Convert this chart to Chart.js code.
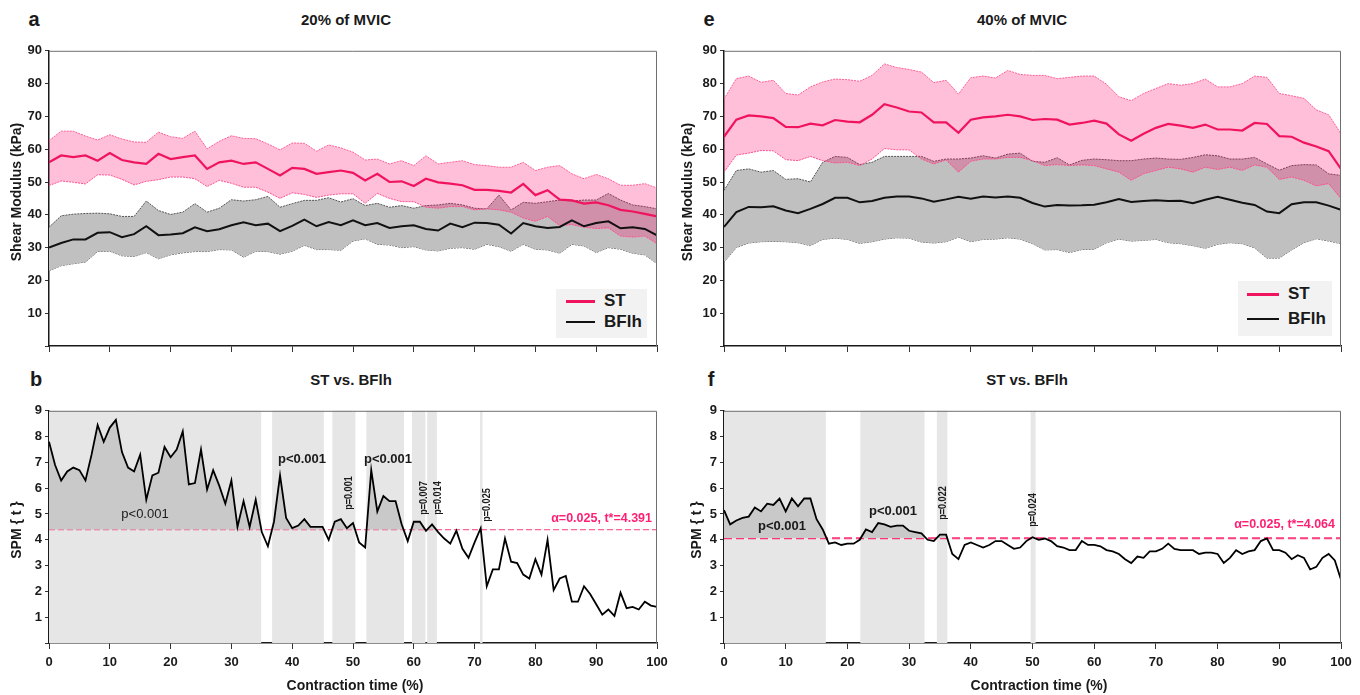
<!DOCTYPE html>
<html>
<head>
<meta charset="utf-8">
<title>ST vs BFlh</title>
<script src="https://cdn.jsdelivr.net/npm/chart.js@4.4.1/dist/chart.umd.min.js"></script>
<style>
  body { margin:0; width:1360px; height:695px; background:#fff; position:relative; overflow:hidden;
         font-family:'Liberation Sans', Arial, sans-serif; color:#1a1a1a; }
  canvas { position:absolute; }
  .t { position:absolute; font-weight:bold; white-space:nowrap; transform:translate(-50%,-50%); }
  .letra { font-size:20px; }
  .titulo { font-size:15px; }
  .eje-y { font-size:14px; transform:translate(-50%,-50%) rotate(-90deg); }
  .eje-x { font-size:14px; }
  .p { font-size:13px; }
  .pn { font-weight:normal; }
  .pv { font-size:11px; transform:translate(-50%,-50%) rotate(-90deg) scaleX(0.82); }
  .alfa { font-size:12.5px; color:#ff1f73; transform:translate(-100%,-50%); }
  .leyenda { position:absolute; background:#f2f2f2; }
  .leyenda div { position:absolute; font-weight:bold; font-size:17px; transform:translateY(-50%); }
  .leyenda span { position:absolute; display:block; }
</style>
</head>
<body>

<canvas id="cA" width="680" height="320" style="left:0;top:40px"></canvas>
<canvas id="cE" width="685" height="320" style="left:675px;top:40px"></canvas>
<canvas id="cB" width="680" height="295" style="left:0;top:400px"></canvas>
<canvas id="cF" width="685" height="295" style="left:675px;top:400px"></canvas>

<!-- rotulos de los paneles -->
<div class="t letra" style="left:34px;top:19px">a</div>
<div class="t titulo" style="left:346px;top:19px">20% of MVIC</div>
<div class="t letra" style="left:709px;top:19px">e</div>
<div class="t titulo" style="left:1022px;top:19px">40% of MVIC</div>
<div class="t letra" style="left:36px;top:379px">b</div>
<div class="t titulo" style="left:351px;top:379px">ST vs. BFlh</div>
<div class="t letra" style="left:711px;top:379px">f</div>
<div class="t titulo" style="left:1027px;top:379px">ST vs. BFlh</div>

<div class="t eje-y" style="left:16px;top:192px">Shear Modulus (kPa)</div>
<div class="t eje-y" style="left:687px;top:192px">Shear Modulus (kPa)</div>
<div class="t eje-y" style="left:16px;top:530px">SPM { t }</div>
<div class="t eje-y" style="left:696px;top:530px">SPM { t }</div>
<div class="t eje-x" style="left:355px;top:685px">Contraction time (%)</div>
<div class="t eje-x" style="left:1039px;top:685px">Contraction time (%)</div>

<!-- clusters SPM, 20% -->
<div class="t p pn" style="left:145px;top:513px">p&lt;0.001</div>
<div class="t p" style="left:302px;top:458px">p&lt;0.001</div>
<div class="t p" style="left:388px;top:458px">p&lt;0.001</div>
<div class="t pv" style="left:348px;top:493px">p=0.001</div>
<div class="t pv" style="left:423px;top:498px">p=0.007</div>
<div class="t pv" style="left:437px;top:498px">p=0.014</div>
<div class="t pv" style="left:486px;top:505px">p=0.025</div>
<div class="t alfa" style="left:652px;top:518px">α=0.025, t*=4.391</div>

<!-- clusters SPM, 40% -->
<div class="t p" style="left:782px;top:525px">p&lt;0.001</div>
<div class="t p" style="left:893px;top:510px">p&lt;0.001</div>
<div class="t pv" style="left:942px;top:503px">p=0.022</div>
<div class="t pv" style="left:1032px;top:510px">p=0.024</div>
<div class="t alfa" style="left:1335px;top:524px">α=0.025, t*=4.064</div>

<div class="leyenda" style="left:556px;top:289px;width:91px;height:49px">
  <span style="left:10px;top:11px;width:29px;height:3px;background:#f0145f"></span>
  <div style="left:48px;top:12px">ST</div>
  <span style="left:10px;top:32px;width:29px;height:2px;background:#111"></span>
  <div style="left:48px;top:33px">BFlh</div>
</div>
<div class="leyenda" style="left:1238px;top:281px;width:94px;height:55px">
  <span style="left:9px;top:12px;width:32px;height:3px;background:#f0145f"></span>
  <div style="left:50px;top:13px">ST</div>
  <span style="left:9px;top:37px;width:32px;height:2px;background:#111"></span>
  <div style="left:50px;top:38px">BFlh</div>
</div>

<script>
const FUENTE = "'Liberation Sans', Arial, sans-serif";
const ROSA = '#f0145f';

// tiempo de contraccion (%) de las bandas media +/- DE
const pasos = [0, 2, 4, 6, 8, 10, 12, 14, 16, 18, 20, 22, 24, 26, 28, 30, 32, 34, 36, 38, 40, 42, 44, 46, 48, 50,
               52, 54, 56, 58, 60, 62, 64, 66, 68, 70, 72, 74, 76, 78, 80, 82, 84, 86, 88, 90, 92, 94, 96, 98, 100];

// 20% MVIC
const st20 = [56.0, 58.1, 57.6, 58.1, 56.5, 58.8, 56.7, 56.0, 55.5, 58.6, 57.0, 57.6, 58.1, 54.0, 56.0, 56.5, 55.5, 56.0, 54.0, 52.0, 54.3, 54.0, 52.5, 53.0, 53.5, 52.8,
              50.5, 52.5, 50.0, 50.2, 48.8, 51.0, 49.9, 49.5, 49.0, 47.6, 47.6, 47.3, 46.8, 49.4, 46.0, 47.5, 44.6, 44.4, 43.4, 43.8, 42.9, 41.5, 41.0, 40.3, 39.5];
const st20Sup = [62.6, 65.5, 65.5, 64.0, 62.8, 64.4, 63.1, 62.2, 62.1, 65.2, 63.8, 63.3, 65.5, 60.1, 62.4, 64.1, 63.3, 63.2, 61.6, 59.8, 61.9, 61.8, 59.4, 61.3, 60.4, 59.1,
                 56.7, 57.0, 55.5, 56.5, 55.0, 58.0, 55.5, 56.0, 56.5, 55.3, 55.0, 54.5, 54.5, 56.0, 53.5, 54.5, 55.0, 52.5, 51.0, 52.3, 51.0, 49.0, 49.0, 49.5, 48.2];
const st20Inf = [48.9, 50.3, 49.9, 49.4, 52.2, 52.1, 50.8, 49.1, 50.2, 50.7, 51.5, 51.5, 51.0, 48.6, 50.5, 49.6, 48.4, 48.4, 46.9, 45.0, 46.7, 46.2, 45.3, 46.0, 46.4, 46.4,
                 43.5, 46.5, 45.0, 44.0, 44.0, 42.3, 42.0, 42.5, 42.5, 41.5, 41.8, 41.5, 40.8, 39.0, 38.0, 39.5, 36.7, 37.0, 36.2, 35.8, 36.0, 33.5, 33.2, 33.5, 31.2];
const bf20 = [30.0, 31.4, 32.5, 32.5, 34.5, 34.7, 33.2, 34.1, 36.5, 33.8, 34.0, 34.4, 36.2, 35.0, 35.6, 36.8, 37.7, 36.8, 37.3, 35.0, 36.6, 38.5, 36.5, 37.8, 36.8, 38.3,
              36.8, 37.5, 36.0, 36.5, 36.8, 35.7, 35.2, 37.3, 36.2, 37.6, 37.5, 37.0, 34.3, 37.5, 36.5, 36.0, 36.3, 38.3, 36.5, 37.5, 38.0, 35.9, 36.2, 35.7, 33.7];
const bf20Sup = [36.2, 39.7, 40.2, 40.4, 40.5, 40.3, 39.5, 39.5, 44.2, 41.3, 40.1, 40.8, 43.4, 40.8, 42.0, 44.6, 44.2, 44.6, 45.6, 42.3, 43.4, 44.4, 44.4, 45.2, 43.9, 44.9,
                 42.8, 43.5, 42.3, 42.8, 42.0, 42.8, 43.0, 43.5, 43.0, 42.0, 41.8, 46.0, 41.5, 43.8, 43.5, 44.0, 44.5, 44.2, 44.5, 44.5, 46.5, 44.5, 43.0, 42.5, 41.8];
const bf20Inf = [22.9, 24.5, 25.1, 25.6, 28.8, 28.9, 27.5, 27.3, 28.5, 26.6, 27.8, 28.4, 28.8, 28.8, 29.4, 29.3, 27.1, 28.9, 28.8, 28.0, 28.9, 30.7, 29.4, 29.4, 29.2, 32.0,
                 32.7, 31.0, 30.8, 30.0, 30.3, 29.3, 29.0, 29.8, 30.0, 29.5, 31.0, 30.3, 28.9, 31.0, 29.5, 29.3, 28.3, 31.0, 30.5, 28.5, 30.0, 29.5, 28.3, 27.8, 25.1];

// 40% MVIC
const st40 = [63.8, 69.0, 70.3, 70.0, 69.5, 66.8, 66.7, 67.8, 67.3, 68.9, 68.4, 68.2, 70.5, 73.7, 72.7, 71.5, 71.2, 68.2, 68.2, 65.0, 69.0, 69.7, 70.0, 70.5, 70.0, 68.9,
              69.2, 69.0, 67.5, 68.0, 68.7, 67.8, 64.5, 62.6, 64.7, 66.5, 67.7, 67.2, 66.5, 67.5, 66.0, 66.0, 65.7, 68.0, 67.7, 64.0, 63.8, 62.0, 60.8, 59.4, 54.0];
const st40Sup = [75.3, 81.5, 82.3, 80.4, 81.0, 77.0, 76.5, 79.0, 80.5, 81.4, 81.2, 80.7, 82.5, 86.0, 84.9, 84.3, 83.5, 80.3, 81.0, 76.8, 81.8, 82.3, 81.7, 84.0, 82.8, 82.5,
                 82.5, 81.5, 81.9, 82.3, 82.3, 79.8, 76.0, 74.8, 77.0, 78.5, 80.0, 79.5, 80.0, 81.4, 79.0, 79.0, 80.0, 82.3, 81.9, 77.0, 76.3, 75.5, 72.0, 70.5, 64.7];
const st40Inf = [53.0, 58.2, 58.8, 59.6, 59.5, 56.8, 56.5, 57.8, 56.5, 55.8, 56.0, 55.0, 57.0, 60.2, 59.8, 59.8, 57.0, 55.5, 56.7, 53.0, 56.3, 57.0, 57.0, 57.5, 57.5, 56.5,
                 55.0, 55.3, 55.0, 55.2, 55.0, 54.0, 53.0, 50.5, 52.5, 53.5, 54.5, 54.0, 53.0, 54.5, 53.8, 54.5, 53.5, 55.2, 54.5, 50.8, 51.5, 50.5, 48.8, 49.5, 44.9];
const bf40 = [36.3, 40.8, 42.4, 42.3, 42.6, 41.3, 40.5, 41.8, 43.3, 45.2, 45.2, 43.8, 44.2, 45.2, 45.6, 45.6, 45.0, 44.0, 44.7, 45.5, 44.9, 45.6, 45.3, 45.6, 45.2, 43.6,
              42.5, 43.0, 42.8, 42.9, 43.1, 43.8, 44.8, 43.9, 44.2, 44.4, 44.2, 44.3, 43.5, 44.6, 45.5, 44.6, 43.7, 43.0, 41.0, 40.5, 43.2, 43.8, 43.8, 42.8, 41.5];
const bf40Sup = [47.4, 53.5, 54.0, 53.0, 53.5, 50.8, 51.0, 50.0, 56.0, 57.8, 57.5, 55.3, 56.0, 57.8, 57.8, 57.8, 57.8, 56.3, 57.0, 57.0, 57.3, 58.0, 57.3, 58.5, 58.8, 56.3,
                 56.0, 57.4, 55.2, 56.6, 57.0, 56.8, 56.5, 56.5, 57.0, 57.3, 57.0, 56.9, 57.5, 58.3, 58.0, 57.0, 57.0, 57.5, 55.5, 53.6, 55.0, 55.3, 55.2, 52.5, 52.0];
const bf40Inf = [25.6, 30.0, 31.4, 31.8, 31.9, 31.8, 31.5, 30.6, 32.5, 32.9, 32.5, 31.3, 31.8, 32.6, 33.0, 32.9, 31.7, 31.4, 31.8, 33.2, 31.8, 32.5, 32.6, 33.0, 32.6, 31.2,
                 29.3, 29.4, 28.5, 29.4, 29.5, 31.5, 32.6, 32.0, 32.2, 32.5, 31.5, 31.2, 30.6, 29.8, 31.0, 31.5, 31.2, 29.9, 26.8, 26.8, 29.3, 31.5, 32.7, 32.0, 31.2];

// SPM{t}, un valor por cada 1% del tiempo de contraccion
const spm20 = [7.8, 6.9, 6.3, 6.65, 6.8, 6.7, 6.3, 7.3, 8.45, 7.8,
               8.35, 8.65, 7.4, 6.8, 6.65, 7.3, 5.55, 6.5, 6.6, 7.6,
               7.2, 7.5, 8.2, 6.15, 6.2, 7.5, 5.95, 6.7, 6.1, 5.4,
               6.3, 4.5, 5.5, 4.5, 5.55, 4.3, 3.75, 4.7, 6.5, 4.85,
               4.45, 4.55, 4.8, 4.5, 4.5, 4.5, 4.0, 4.7, 4.8, 4.45,
               4.65, 3.9, 3.7, 6.7, 5.1, 5.7, 5.5, 5.5, 4.6, 3.95,
               4.7, 4.7, 4.35, 4.6, 4.3, 4.05, 3.85, 4.35, 3.65, 3.3,
               3.9, 4.45, 2.2, 2.85, 2.85, 4.05, 3.15, 3.1, 2.65, 2.5,
               3.25, 2.65, 4.0, 2.05, 2.5, 2.6, 1.6, 1.6, 2.2, 1.9,
               1.5, 1.1, 1.3, 1.05, 1.95, 1.35, 1.4, 1.3, 1.6, 1.45, 1.4];
const spm40 = [5.15, 4.6, 4.75, 4.85, 4.9, 5.25, 5.1, 5.4, 5.35, 5.6,
               5.1, 5.6, 5.3, 5.6, 5.6, 4.8, 4.4, 3.85, 3.9, 3.8,
               3.85, 3.85, 4.0, 4.4, 4.3, 4.65, 4.6, 4.5, 4.55, 4.55,
               4.35, 4.3, 4.25, 4.0, 3.95, 4.2, 4.2, 3.45, 3.25, 3.8,
               3.9, 3.8, 3.7, 3.8, 3.95, 3.95, 3.8, 3.65, 3.7, 3.95,
               4.1, 4.0, 4.05, 3.95, 3.75, 3.7, 3.6, 3.6, 3.95, 3.8,
               3.8, 3.75, 3.6, 3.55, 3.45, 3.25, 3.1, 3.35, 3.3, 3.55,
               3.55, 3.65, 3.85, 3.65, 3.6, 3.6, 3.6, 3.45, 3.5, 3.5,
               3.45, 3.1, 3.3, 3.6, 3.45, 3.55, 3.6, 3.95, 4.05, 3.6,
               3.6, 3.5, 3.25, 3.4, 3.3, 2.85, 2.95, 3.3, 3.45, 3.2, 2.45];

const UMBRAL_20 = 4.391;
const UMBRAL_40 = 4.064;

// clusters supra-umbral (inicio / fin en % del tiempo)
const inicios20 = [0, 36.7, 46.6, 52.2, 59.7, 62.2, 70.9];
const fines20   = [34.9, 45.2, 50.4, 58.4, 61.9, 63.8, 71.3];
const inicios40 = [0, 22.1, 34.5, 49.7];
const fines40   = [16.5, 32.5, 36.2, 50.5];

const puntos = (xs, ys) => ys.map((y, i) => ({ x: xs[i], y }));
const indices = spm20.map((_, i) => i);

// borde gris superior y derecho del area de trazado
const marco = {
    id: 'marco',
    afterDatasetsDraw(chart) {
        const { ctx, chartArea: a } = chart;
        ctx.save();
        ctx.strokeStyle = '#6f6f6f';
        ctx.lineWidth = 1;
        ctx.beginPath();
        ctx.moveTo(a.left, a.top + 0.5);
        ctx.lineTo(a.right - 0.5, a.top + 0.5);
        ctx.lineTo(a.right - 0.5, a.bottom);
        ctx.stroke();
        ctx.restore();
    }
};

// franjas gris claro de los clusters significativos
const franjas = {
    id: 'franjas',
    beforeDatasetsDraw(chart, args, opts) {
        const { ctx, chartArea: a, scales: { x } } = chart;
        ctx.save();
        ctx.fillStyle = '#e6e6e6';
        opts.inicios.forEach((ini, i) => {
            const x0 = x.getPixelForValue(ini);
            const x1 = x.getPixelForValue(opts.fines[i]);
            ctx.fillRect(x0, a.top, x1 - x0, a.bottom - a.top);
        });
        ctx.restore();
    }
};

function ejeX(etiquetas, alto) {
    return {
        type: 'linear', min: 0, max: 100, z: 1,
        ticks: { stepSize: 10, display: etiquetas, color: '#1a1a1a', padding: 6, maxRotation: 0,
                 font: { family: FUENTE, size: 13, weight: 'bold' } },
        grid: { drawOnChartArea: false, drawTicks: true, tickLength: 6, color: '#333', lineWidth: 1 },
        border: { display: true, color: '#1a1a1a', width: 1.5 },
        afterFit: s => { s.height = alto; }
    };
}

function ejeY(max) {
    return {
        min: 0, max, z: 1,
        ticks: { stepSize: max / 9, color: '#1a1a1a', padding: 3,
                 font: { family: FUENTE, size: 13, weight: 'bold' },
                 callback: v => (v === 0 ? '' : v) },
        grid: { drawOnChartArea: false, drawTicks: true, tickLength: 4, color: '#333', lineWidth: 1 },
        border: { display: true, color: '#1a1a1a', width: 1.5 },
        afterFit: s => { s.width = 49; }
    };
}

function opcionesBase(padding, escalas, extra) {
    return {
        responsive: false, animation: false, devicePixelRatio: 1,
        layout: { padding },
        elements: { point: { radius: 0 }, line: { tension: 0 } },
        plugins: Object.assign({ legend: { display: false }, tooltip: { enabled: false } }, extra || {}),
        scales: escalas
    };
}

function panelBandas(id, st, stSup, stInf, bf, bfSup, bfInf, derecha) {
    new Chart(document.getElementById(id), {
        type: 'line',
        data: {
            datasets: [
                { data: puntos(pasos, bfInf), borderColor: '#555', borderWidth: 1, borderDash: [2, 1], fill: false, order: 5 },
                { data: puntos(pasos, bfSup), borderColor: '#555', borderWidth: 1, borderDash: [2, 1],
                  backgroundColor: '#c0c0c0', fill: '-1', order: 4 },
                { data: puntos(pasos, stInf), borderColor: '#ff5c96', borderWidth: 1, borderDash: [2, 1], fill: false, order: 3 },
                { data: puntos(pasos, stSup), borderColor: '#ff5c96', borderWidth: 1, borderDash: [2, 1],
                  backgroundColor: 'rgba(255, 0, 102, 0.25)', fill: '-1', order: 2 },
                { data: puntos(pasos, bf), borderColor: '#111', borderWidth: 2, fill: false, order: 1 },
                { data: puntos(pasos, st), borderColor: ROSA, borderWidth: 2.2, fill: false, order: 0 }
            ]
        },
        options: opcionesBase({ left: 0, right: derecha, top: 10, bottom: 0 },
                              { x: ejeX(false, 14), y: ejeY(90) }),
        plugins: [marco]
    });
}

function panelSPM(id, valores, umbral, inicios, fines, derecha, grosor, guion) {
    new Chart(document.getElementById(id), {
        type: 'line',
        data: {
            datasets: [
                { data: puntos(indices, valores), borderColor: '#000', borderWidth: 1.8, order: 0,
                  fill: { target: { value: umbral }, above: '#c9c9c9', below: 'rgba(0,0,0,0)' } },
                { data: [{ x: 0, y: umbral }, { x: 100, y: umbral }], borderColor: '#ff2a74',
                  borderWidth: grosor, borderDash: guion, fill: false, order: 1 }
            ]
        },
        options: opcionesBase({ left: 0, right: derecha, top: 10, bottom: 0 },
                              { x: ejeX(true, 52), y: ejeY(9) },
                              { franjas: { inicios, fines } }),
        plugins: [franjas, marco]
    });
}

panelBandas('cA', st20, st20Sup, st20Inf, bf20, bf20Sup, bf20Inf, 23);
panelBandas('cE', st40, st40Sup, st40Inf, bf40, bf40Sup, bf40Inf, 19);
panelSPM('cB', spm20, UMBRAL_20, inicios20, fines20, 23, 1, [6, 3]);
panelSPM('cF', spm40, UMBRAL_40, inicios40, fines40, 19, 2, [8, 4]);
</script>
</body>
</html>
